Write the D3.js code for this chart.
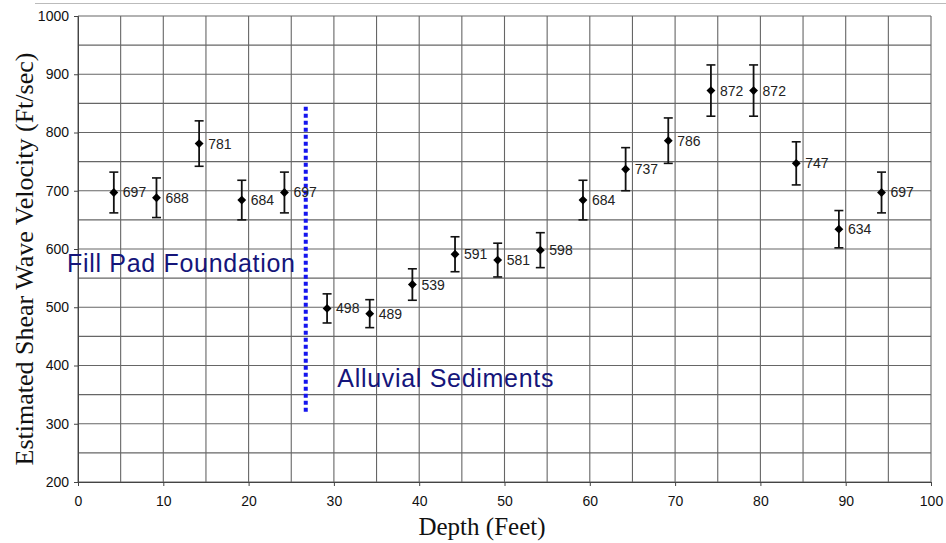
<!DOCTYPE html>
<html>
<head>
<meta charset="utf-8">
<script src="https://cdn.jsdelivr.net/npm/d3@7/dist/d3.min.js"></script>
<style>
  body { margin: 0; background: #fff; }
  svg { display: block; }
</style>
</head>
<body>
<svg id="chart" width="946" height="543"></svg>
<script>
// depth of each test (feet) and the velocity
var depths = [4.2, 9.2, 14.2, 19.2, 24.2, 29.2, 34.2, 39.2, 44.2, 49.2, 54.2, 59.2, 64.2, 69.2, 74.2, 79.2, 84.2, 89.2, 94.2];
var velocities = [697, 688, 781, 684, 697, 498, 489, 539, 591, 581, 598, 684, 737, 786, 872, 872, 747, 634, 697];
var errors = [35, 34, 39, 34, 35, 25, 24, 27, 30, 29, 30, 34, 37, 39, 44, 44, 37, 32, 35];
var xTicks = [0, 10, 20, 30, 40, 50, 60, 70, 80, 90, 100];
var yTicks = [200, 300, 400, 500, 600, 700, 800, 900, 1000];
var boundaryDepth = [26.7];
var boundaryRange = [318, 844];

var svg = d3.select("#chart");
var margin = {left: 78, right: 15, top: 16, bottom: 61};
var width = 946 - margin.left - margin.right,
    height = 543 - margin.top - margin.bottom;

var x = d3.scaleLinear().domain([0, 100]).range([0, width]);
var y = d3.scaleLinear().domain([200, 1000]).range([height, 0]);

// thin line across the very top
svg.append("line")
    .attr("x1", 35).attr("x2", 946).attr("y1", 3.5).attr("y2", 3.5)
    .attr("stroke", "#bbb").attr("stroke-width", 1);

var g = svg.append("g")
    .attr("transform", "translate(" + margin.left + "," + margin.top + ")");

// grid every 5 ft / 50 ft/sec
g.append("g")
    .selectAll("line")
    .data(d3.range(0, 101, 5))
    .enter().append("line")
    .attr("x1", function(d) { return x(d); })
    .attr("x2", function(d) { return x(d); })
    .attr("y1", 0).attr("y2", height)
    .attr("stroke", "#666").attr("stroke-width", 1.1);

g.append("g")
    .selectAll("line")
    .data(d3.range(200, 1001, 50))
    .enter().append("line")
    .attr("x1", 0).attr("x2", width)
    .attr("y1", function(d) { return y(d); })
    .attr("y2", function(d) { return y(d); })
    .attr("stroke", "#666").attr("stroke-width", 1.1);

var xAxis = g.append("g")
    .attr("transform", "translate(0," + height + ")")
    .call(d3.axisBottom(x).tickValues(xTicks).tickSize(4).tickPadding(10).tickFormat(d3.format("d")));
var yAxis = g.append("g")
    .call(d3.axisLeft(y).tickValues(yTicks).tickSize(4).tickPadding(5).tickFormat(d3.format("d")));

[xAxis, yAxis].forEach(function(ax) {
    ax.select(".domain").attr("stroke", "#444");
    ax.selectAll(".tick line").attr("stroke", "#444");
    ax.selectAll("text")
        .attr("font-family", "Arial, 'Liberation Sans', sans-serif")
        .attr("font-size", "14px")
        .attr("fill", "#111");
});

// axis titles
svg.append("text")
    .attr("transform", "translate(33," + 259 + ") rotate(-90)")
    .attr("text-anchor", "middle")
    .attr("font-family", "'Times New Roman', 'Liberation Serif', serif")
    .attr("font-size", "26px")
    .attr("fill", "#111")
    .text("Estimated Shear Wave Velocity (Ft/sec)");

svg.append("text")
    .attr("x", 482).attr("y", 535)
    .attr("text-anchor", "middle")
    .attr("font-family", "'Times New Roman', 'Liberation Serif', serif")
    .attr("font-size", "25px")
    .attr("fill", "#111")
    .text("Depth (Feet)");

// boundary between fill and alluvium
g.append("line")
    .attr("x1", x(boundaryDepth[0])).attr("x2", x(boundaryDepth[0]))
    .attr("y1", y(boundaryRange[1])).attr("y2", y(boundaryRange[0]))
    .attr("stroke", "#1515ee")
    .attr("stroke-width", 4)
    .attr("stroke-dasharray", "4,3");

g.append("text")
    .attr("x", x(-1.3)).attr("y", y(560))
    .attr("font-family", "Arial, 'Liberation Sans', sans-serif")
    .attr("font-size", "25px")
    .attr("letter-spacing", "0.7px")
    .attr("fill", "#15157a")
    .text("Fill Pad Foundation");

g.append("text")
    .attr("x", x(30.4)).attr("y", y(363))
    .attr("font-family", "Arial, 'Liberation Sans', sans-serif")
    .attr("font-size", "25px")
    .attr("letter-spacing", "0.7px")
    .attr("fill", "#15157a")
    .text("Alluvial Sediments");

// error bars, markers and value labels
var pts = depths.map(function(d, i) {
    return {depth: d, v: velocities[i], err: errors[i]};
});

var pt = g.selectAll(".pt")
    .data(pts)
    .enter().append("g")
    .attr("class", "pt");

pt.append("line")
    .attr("x1", function(d) { return x(d.depth); })
    .attr("x2", function(d) { return x(d.depth); })
    .attr("y1", function(d) { return y(d.v + d.err); })
    .attr("y2", function(d) { return y(d.v - d.err); })
    .attr("stroke", "#111").attr("stroke-width", 1.8);

[1, -1].forEach(function(s) {
    pt.append("line")
        .attr("x1", function(d) { return x(d.depth) - 4.5; })
        .attr("x2", function(d) { return x(d.depth) + 4.5; })
        .attr("y1", function(d) { return y(d.v + s * d.err); })
        .attr("y2", function(d) { return y(d.v + s * d.err); })
        .attr("stroke", "#111").attr("stroke-width", 1.6);
});

pt.append("path")
    .attr("d", d3.symbol().type(d3.symbolDiamond2).size(50))
    .attr("transform", function(d) { return "translate(" + x(d.depth) + "," + y(d.v) + ")"; })
    .attr("fill", "#000");

pt.append("text")
    .attr("x", function(d) { return x(d.depth) + 9; })
    .attr("y", function(d) { return y(d.v) + 5; })
    .attr("font-family", "Arial, 'Liberation Sans', sans-serif")
    .attr("font-size", "14px")
    .attr("fill", "#222")
    .text(function(d) { return d.v; });
</script>
</body>
</html>
